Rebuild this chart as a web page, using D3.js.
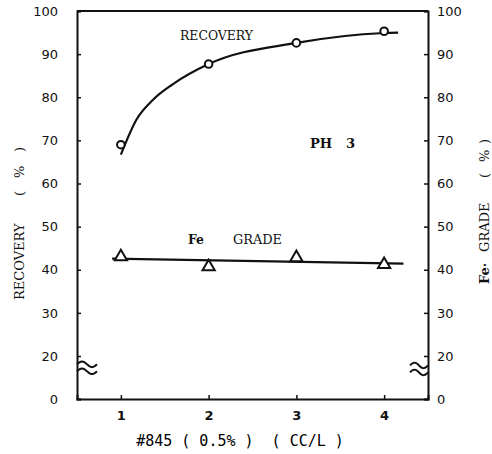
<!DOCTYPE html>
<html lang="en">
<head>
<meta charset="UTF-8">
<title>Recovery and Fe grade vs #845</title>
<script src="https://cdn.jsdelivr.net/npm/d3@7"></script>
<style>
	body { margin: 0; background: #fff; }
	.tick text { font-family: "DejaVu Sans", sans-serif; font-size: 13px; fill: #111; }
	.typ { font-family: "DejaVu Serif", serif; fill: #111; }
</style>
</head>
<body>
<script>
	// values
	var dosage = [1, 2, 3, 4];
	var recovery = [69, 87.7, 92.6, 95.3];
	var feGrade = [43, 40.7, 42.8, 41.2];

	// hand-drawn fitted lines
	var recFitX = [1, 1.18, 1.37, 1.59, 2, 3, 4, 4.16];
	var recFitY = [66.7, 74.9, 79.5, 83, 87.7, 92.6, 94.9, 95];
	var gradeFitX = [0.9, 4.22];
	var gradeFitY = [42.6, 41.4];

	var xTicks = [1, 2, 3, 4];
	var yTicks = [0, 20, 30, 40, 50, 60, 70, 80, 90, 100];

	var W = 492, H = 454;
	var svg = d3.select('body').append('svg')
		.attr('width', W)
		.attr('height', H);

	var x = d3.scaleLinear().domain([0.5, 4.5]).range([77, 428]);
	// broken axis: 0 sits right under 20
	var y = d3.scaleLinear().domain([0, 20, 100]).range([399, 356, 11]);

	// frame
	svg.append('line')
		.attr('x1', x(0.5)).attr('x2', x(4.5))
		.attr('y1', y(100)).attr('y2', y(100))
		.attr('stroke', '#111').attr('stroke-width', 2);

	var xAxis = svg.append('g')
		.attr('transform', 'translate(0,' + y(0) + ')')
		.call(d3.axisBottom(x).tickValues(xTicks).tickSize(-4).tickPadding(12).tickFormat(d3.format('d')));

	var yLeft = svg.append('g')
		.attr('transform', 'translate(' + x(0.5) + ',0)')
		.call(d3.axisLeft(y).tickValues(yTicks).tickSize(-4).tickPadding(19));

	var yRight = svg.append('g')
		.attr('transform', 'translate(' + x(4.5) + ',0)')
		.call(d3.axisRight(y).tickValues(yTicks).tickSize(-4).tickPadding(9));

	[xAxis, yLeft, yRight].forEach(function (g) {
		g.select('.domain').attr('stroke', '#111').attr('stroke-width', 2);
		g.selectAll('.tick line').attr('stroke', '#111').attr('stroke-width', 1.5);
	});
	xAxis.selectAll('.tick text').style('font-weight', 'bold');

	// axis break marks
	function breakMark(x0, x1, yc) {
		var pts = [];
		for (var k = 0; k <= 16; k++) {
			var t = k / 16;
			pts.push([x0 + t * (x1 - x0), yc - 2.8 * Math.sin(t * Math.PI * 2)]);
		}
		var ln = d3.line().curve(d3.curveBasis);
		[-3.5, 3.5].forEach(function (off) {
			svg.append('path')
				.attr('d', ln(pts.map(function (p) { return [p[0], p[1] + off]; })))
				.attr('fill', 'none')
				.attr('stroke', '#111')
				.attr('stroke-width', 2);
		});
	}
	breakMark(x(0.5), x(0.5) + 20, y(14.5));
	breakMark(x(4.5) - 18, x(4.5), y(14));

	var line = d3.line()
		.x(function (d) { return x(d[0]); })
		.y(function (d) { return y(d[1]); });

	svg.append('path')
		.attr('d', line.curve(d3.curveMonotoneX)(d3.zip(recFitX, recFitY)))
		.attr('fill', 'none')
		.attr('stroke', '#111')
		.attr('stroke-width', 2.2);

	svg.append('path')
		.attr('d', d3.line().x(function (d) { return x(d[0]); }).y(function (d) { return y(d[1]); })(d3.zip(gradeFitX, gradeFitY)))
		.attr('fill', 'none')
		.attr('stroke', '#111')
		.attr('stroke-width', 2.2);

	svg.selectAll('.rec')
		.data(d3.zip(dosage, recovery))
		.enter()
		.append('circle')
		.attr('class', 'rec')
		.attr('cx', function (d) { return x(d[0]); })
		.attr('cy', function (d) { return y(d[1]); })
		.attr('r', 3.8)
		.attr('fill', '#fff')
		.attr('stroke', '#111')
		.attr('stroke-width', 2);

	svg.selectAll('.fe')
		.data(d3.zip(dosage, feGrade))
		.enter()
		.append('path')
		.attr('class', 'fe')
		.attr('d', d3.symbol().type(d3.symbolTriangle).size(65))
		.attr('transform', function (d) { return 'translate(' + x(d[0]) + ',' + y(d[1]) + ')'; })
		.attr('fill', '#fff')
		.attr('stroke', '#111')
		.attr('stroke-width', 2);

	// labels inside the plot
	function label(txt, lx, ly, len, bold) {
		return svg.append('text').attr('class', 'typ')
			.attr('x', lx).attr('y', ly)
			.attr('textLength', len)
			.attr('lengthAdjust', 'spacingAndGlyphs')
			.attr('xml:space', 'preserve')
			.style('font-size', '12px')
			.style('font-weight', bold ? 'bold' : 'normal')
			.text(txt);
	}
	label('RECOVERY', 180, 40, 73, false);
	label('PH   3', 310, 148, 45, true);
	label('Fe', 188, 244, 16, true);
	label('GRADE', 233, 244, 49, false);

	// axis titles, pieces placed along the rotated baseline
	function vTitle(cx, y0, parts) {
		var t = svg.append('text').attr('class', 'typ')
			.attr('transform', 'translate(' + cx + ',' + y0 + ') rotate(-90)')
			.style('font-size', '13px');
		parts.forEach(function (p) {
			t.append('tspan')
				.attr('x', p[1])
				.style('font-weight', p[2] ? 'bold' : 'normal')
				.text(p[0]);
		});
	}
	vTitle(24, 300, [['RECOVERY', 0], ['(', 104], ['%', 122], [')', 148]]);
	vTitle(489, 284, [['Fe·', 0, true], ['GRADE', 32], ['(', 106], ['%', 122], [')', 140]]);

	svg.append('text')
		.attr('x', 240).attr('y', 446)
		.style('text-anchor', 'middle')
		.style('font-family', '"DejaVu Sans Mono", monospace')
		.style('font-size', '15px')
		.attr('xml:space', 'preserve')
		.text('#845 ( 0.5% )  ( CC/L )');
</script>
</body>
</html>
